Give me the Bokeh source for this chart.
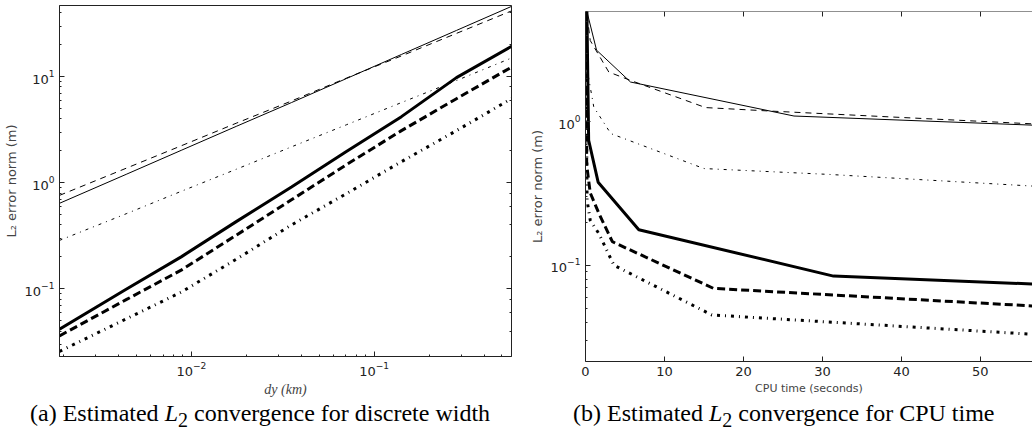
from bokeh.plotting import figure
from bokeh.layouts import row, column
from bokeh.models import (LogAxis, LinearAxis, Div, SingleIntervalTicker,
                          LogTicker, CustomJSTickFormatter)
from bokeh.embed import file_html
from bokeh.resources import INLINE

# ---------------- data: (a) error vs grid spacing ----------------
dy_km = [0.0019, 0.0044, 0.0088, 0.0176, 0.0353, 0.0705, 0.141, 0.282, 0.564]
a_thin_solid = [0.64, 1.2, 2.02, 3.4, 5.7, 9.6, 16.2, 27.3, 46.0]
a_thin_dashed = [0.76, 1.37, 2.23, 3.64, 5.9, 9.7, 15.7, 25.6, 41.7]
a_thin_dashdot = [0.286, 0.51, 0.83, 1.34, 2.18, 3.52, 5.7, 9.2, 15.0]
a_thick_solid = [0.0417, 0.099, 0.20, 0.43, 0.91, 1.97, 4.2, 9.8, 19.3]
a_thick_dashed = [0.036, 0.079, 0.15, 0.32, 0.69, 1.48, 3.1, 6.2, 12.3]
a_thick_dashdot = [0.0257, 0.052, 0.093, 0.19, 0.40, 0.79, 1.58, 3.1, 6.2]

# ---------------- data: (b) error vs CPU time ----------------
b_thin_solid_t = [0.05, 1.4, 5.7, 26.4, 56.6]
b_thin_solid = [6.3, 3.17, 1.9, 1.1, 0.95]
b_thin_dashed_t = [0.05, 0.6, 2.95, 5.7, 15.2, 23.6, 56.6]
b_thin_dashed = [6.5, 3.7, 2.23, 1.95, 1.26, 1.19, 0.97]
b_thin_dashdot_t = [0.05, 1.05, 3.2, 15.0, 31.0, 56.6]
b_thin_dashdot = [2.6, 1.27, 0.83, 0.473, 0.43, 0.357]
b_thick_solid_t = [0.05, 0.4, 1.6, 6.75, 31.4, 56.6]
b_thick_solid = [19.3, 0.745, 0.38, 0.177, 0.084, 0.074]
b_thick_dashed_t = [0.05, 0.15, 0.6, 1.7, 3.4, 16.2, 31.4, 56.6]
b_thick_dashed = [12.3, 0.5, 0.32, 0.23, 0.146, 0.069, 0.062, 0.052]
b_thick_dashdot_t = [0.05, 0.2, 0.6, 1.7, 3.6, 16.0, 31.4, 56.6]
b_thick_dashdot = [6.2, 0.284, 0.206, 0.166, 0.10, 0.045, 0.040, 0.033]

caption_a = "(a) Estimated <i>L</i><sub>2</sub> convergence for discrete width"
caption_b = "(b) Estimated <i>L</i><sub>2</sub> convergence for CPU time"

AX = "#222222"
TICK_FONT = "DejaVu Sans"


def style_axis(ax, labels=True, minor=True):
    ax.axis_line_color = AX
    ax.major_tick_line_color = AX
    ax.minor_tick_line_color = AX if minor else None
    ax.major_tick_in = 5
    ax.major_tick_out = 0
    ax.minor_tick_in = 2
    ax.minor_tick_out = 0
    ax.major_label_text_font = TICK_FONT
    ax.major_label_text_font_size = "13px"
    ax.major_label_text_color = AX
    ax.major_label_standoff = 5
    ax.axis_label_standoff = 4
    if not labels:
        ax.formatter = CustomJSTickFormatter(code="return ''")
        ax.major_label_standoff = 0
        ax.major_label_text_font_size = "0px"
        ax.axis_label_standoff = 0


def caption(text, width, pad):
    return Div(text=text, width=width, height=38, margin=(0, 0, 0, 0),
               styles={"font-family": "Liberation Serif", "font-size": "24px",
                       "line-height": "24px", "color": "black",
                       "padding-left": f"{pad}px", "padding-top": "1px",
                       "white-space": "nowrap"})


# ---------------- figure (a) ----------------
X1 = (0.0019, 0.564)
Y1 = (0.023, 46.9)
p1 = figure(width=520, height=400, x_axis_type="log", y_axis_type="log",
            x_range=X1, y_range=Y1,
            output_backend="svg", toolbar_location=None,
            min_border_left=58, min_border_right=9,
            min_border_top=5, min_border_bottom=44)
p1.grid.visible = False
p1.outline_line_color = AX
p1.background_fill_color = "white"
p1.border_fill_color = "white"

p1.line(dy_km, a_thin_solid, line_color="black", line_width=1)
p1.line(dy_km, a_thin_dashed, line_color="black", line_width=1, line_dash="6 5")
p1.line(dy_km, a_thin_dashdot, line_color="black", line_width=1, line_dash="3 5 1 5")
p1.line(dy_km, a_thick_solid, line_color="black", line_width=3)
p1.line(dy_km, a_thick_dashed, line_color="black", line_width=3, line_dash="8 4")
p1.line(dy_km, a_thick_dashdot, line_color="black", line_width=3, line_dash="3 5 1 5")

for ax in p1.xaxis + p1.yaxis:
    style_axis(ax)
p1.xaxis.axis_label = "dy (km)"
p1.xaxis.axis_label_text_font = "Liberation Serif"
p1.xaxis.axis_label_text_font_style = "italic"
p1.xaxis.axis_label_text_font_size = "14px"
p1.xaxis.axis_label_standoff = 3
p1.yaxis.axis_label = "L₂ error norm (m)"
p1.yaxis.axis_label_text_font = TICK_FONT
p1.yaxis.axis_label_text_font_style = "normal"
p1.yaxis.axis_label_text_font_size = "13px"
p1.yaxis.axis_label_standoff = 3

right1 = LogAxis(ticker=LogTicker(), fixed_location=X1[1])
style_axis(right1, labels=False)
p1.add_layout(right1, "right")

# ---------------- figure (b) ----------------
X2 = (0, 56.6)
Y2 = (0.0213, 5.9)
p2 = figure(width=512, height=400, y_axis_type="log",
            x_range=X2, y_range=Y2,
            output_backend="svg", toolbar_location=None,
            min_border_left=65, min_border_right=0,
            min_border_top=11, min_border_bottom=39)
p2.grid.visible = False
p2.outline_line_color = None
p2.background_fill_color = "white"
p2.border_fill_color = "white"

p2.line(b_thin_solid_t, b_thin_solid, line_color="black", line_width=1)
p2.line(b_thin_dashed_t, b_thin_dashed, line_color="black", line_width=1, line_dash="6 5")
p2.line(b_thin_dashdot_t, b_thin_dashdot, line_color="black", line_width=1, line_dash="3 5 1 5")
p2.line(b_thick_solid_t, b_thick_solid, line_color="black", line_width=3)
p2.line(b_thick_dashed_t, b_thick_dashed, line_color="black", line_width=3, line_dash="8 4")
p2.line(b_thick_dashdot_t, b_thick_dashdot, line_color="black", line_width=3, line_dash="3 5 1 5")

p2.xaxis.ticker = SingleIntervalTicker(interval=10, num_minor_ticks=0)
for ax in p2.xaxis:
    style_axis(ax, minor=False)
for ax in p2.yaxis:
    style_axis(ax)
p2.xaxis.axis_label = "CPU time (seconds)"
p2.xaxis.axis_label_text_font = TICK_FONT
p2.xaxis.axis_label_text_font_style = "normal"
p2.xaxis.axis_label_text_font_size = "11px"
p2.xaxis.axis_label_standoff = 3
p2.yaxis.axis_label = "L₂ error norm (m)"
p2.yaxis.axis_label_text_font = TICK_FONT
p2.yaxis.axis_label_text_font_style = "normal"
p2.yaxis.axis_label_text_font_size = "13px"
p2.yaxis.axis_label_standoff = 3

top2 = LinearAxis(ticker=SingleIntervalTicker(interval=10, num_minor_ticks=0),
                  fixed_location=Y2[1])
style_axis(top2, labels=False, minor=False)
p2.add_layout(top2, "above")

layout = row(column(p1, caption(caption_a, 520, 30)),
             column(p2, caption(caption_b, 512, 53)))
open("out.html", "w").write(file_html(layout, INLINE))
